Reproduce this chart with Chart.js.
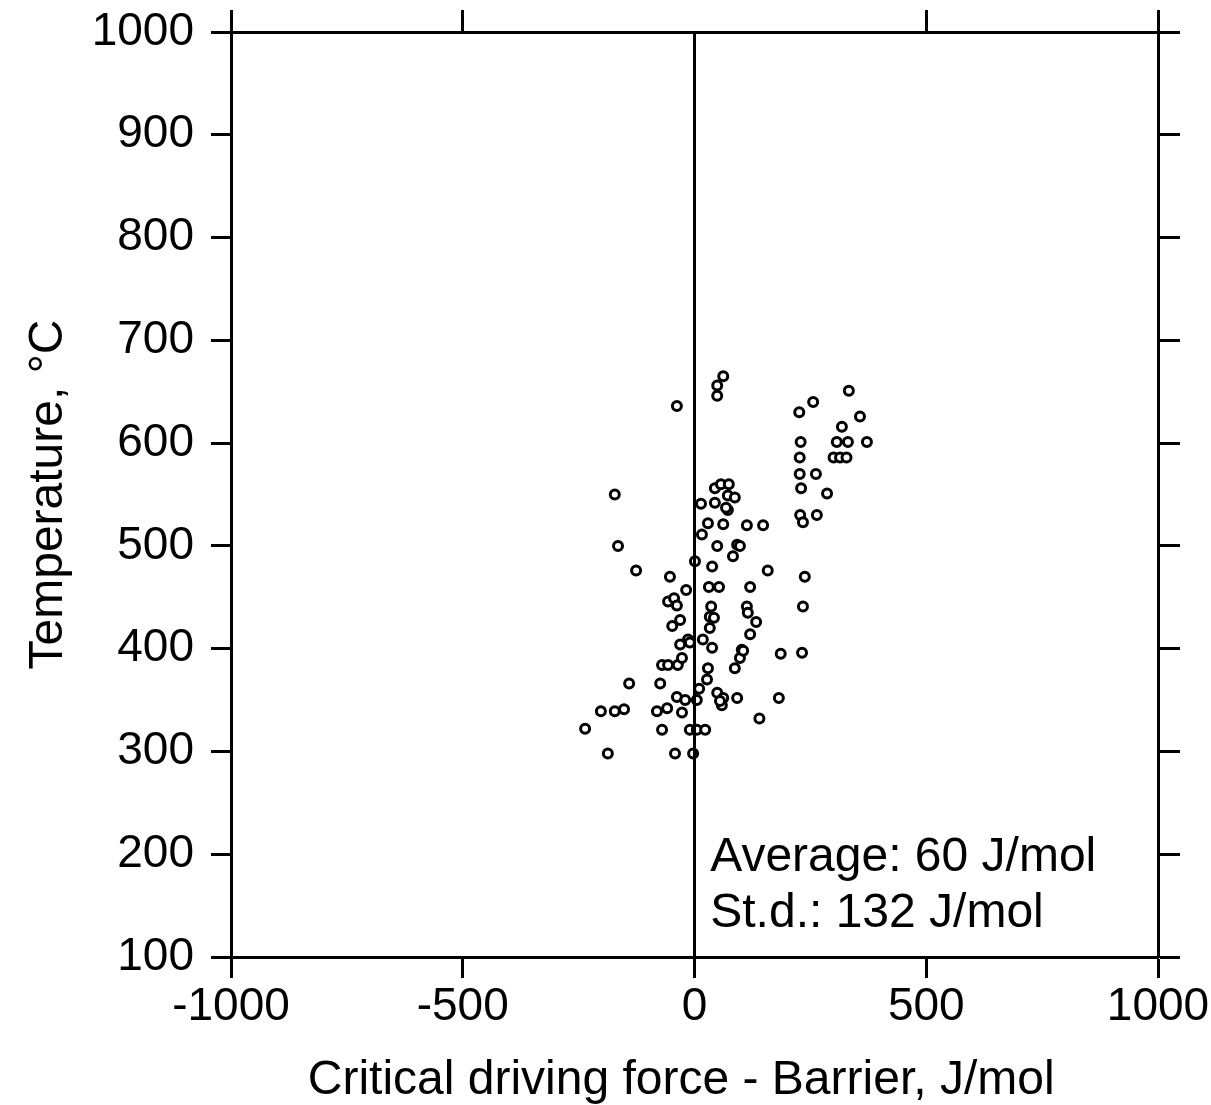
<!DOCTYPE html>
<html>
<head>
<meta charset="utf-8">
<script src="https://cdn.jsdelivr.net/npm/chart.js@4"></script>
<style>
  body { margin: 0; background: #fff; }
  #wrap { width: 1211px; height: 1105px; position: relative; }
</style>
</head>
<body>
<div id="wrap"><canvas id="chart"></canvas></div>
<script>
// Critical driving force - Barrier (J/mol) vs temperature (C)
const drivingForce = [
  -38, 62, 49, 49, -172, 44, 57, 74, 72, 87,
  72, 14, 44, 29, 16, 62, 113, -165, 49, 92,
  98, 83, 1, 38, -126, -53, 31, 53, 120, -18,
  -57, -44, -38, 36, 33, 113, 115, 133, 120, -31,
  -48, 33, -31, -14, 18, 38, 102, 98, 87, -70,
  -57, -36, -27, 29, 27, -74, -141, 10, 49, 62,
  92, 59, 55, -38, -20, 5, -81, -59, -27, -152,
  -172, -202, -236, -70, -10, 5, 23, -187, -42, -3,
  140, 186, 232, 182, 158, 238, 234, 228, 234, 264,
  148, 230, 227, 262, 286, 227, 229, 300, 314, 328,
  307, 331, 372, 318, 357, 333, 256, 226, 68, 105,
  -10, 42
];
const temperature = [
  636, 665, 656, 646, 550, 556, 560, 560, 549, 547,
  535, 541, 542, 522, 511, 521, 520, 500, 500, 501,
  500, 490, 485, 480, 476, 470, 460, 460, 460, 457,
  446, 449, 442, 441, 431, 441, 435, 426, 414, 428,
  422, 420, 404, 409, 409, 401, 399, 391, 381, 384,
  384, 384, 391, 381, 370, 366, 366, 361, 357, 352,
  352, 345, 349, 353, 350, 350, 339, 342, 338, 341,
  339, 339, 322, 321, 321, 321, 321, 298, 298, 298,
  332, 395, 396, 352, 476, 470, 441, 530, 523, 530,
  520, 556, 570, 570, 551, 586, 601, 586, 586, 586,
  601, 601, 601, 616, 626, 651, 640, 630, 537, 398,
  406, 430
];

// axis ticks
const xTicks = [-1000, -500, 0, 500, 1000];
const yTicks = [100, 200, 300, 400, 500, 600, 700, 800, 900, 1000];

const noteLines = ['Average: 60 J/mol', 'St.d.: 132 J/mol'];

const FONT = '"Liberation Sans", Arial, Helvetica, sans-serif';

const points = drivingForce.map((v, i) => ({ x: v, y: temperature[i] }));

// draws the statistics text inside the plot
const notePlugin = {
  id: 'note',
  afterDatasetsDraw(chart) {
    const { ctx, scales } = chart;
    const px = scales.x.getPixelForValue(34);
    const baselines = [184, 129];
    ctx.save();
    ctx.fillStyle = '#000';
    ctx.font = '48px ' + FONT;
    ctx.textAlign = 'left';
    ctx.textBaseline = 'alphabetic';
    noteLines.forEach((t, i) => {
      ctx.fillText(t, px, scales.y.getPixelForValue(baselines[i]));
    });
    ctx.restore();
  }
};

// force the axis box sizes so the plot area sits where it does in the figure
const fixSize = (w, h) => (scale) => {
  if (w !== null) scale.width = w;
  if (h !== null) scale.height = h;
  scale.paddingTop = 0;
  scale.paddingBottom = 0;
  scale.paddingLeft = 0;
  scale.paddingRight = 0;
};

const ctx = document.getElementById('chart').getContext('2d');
const chart = new Chart(ctx, {
  type: 'scatter',
  data: {
    datasets: [{
      type: 'line',
      data: [{ x: 0, y: 100 }, { x: 0, y: 1000 }],
      borderColor: '#000',
      borderWidth: 3,
      pointRadius: 0,
      fill: false
    }, {
      data: points,
      pointStyle: 'circle',
      pointRadius: 4.5,
      borderColor: '#000',
      backgroundColor: '#fff',
      borderWidth: 3
    }]
  },
  options: {
    responsive: true,
    maintainAspectRatio: false,
    animation: false,
    layout: { padding: 0 },
    plugins: { legend: { display: false }, tooltip: { enabled: false } },
    scales: {
      x: {
        type: 'linear',
        position: 'bottom',
        min: -1000,
        max: 1000,
        afterBuildTicks: (s) => { s.ticks = xTicks.map(v => ({ value: v })); },
        afterFit: fixSize(null, 148),
        border: { display: true, color: '#000', width: 3 },
        grid: { drawOnChartArea: false, drawTicks: true, tickLength: 21, tickColor: '#000', tickWidth: 3 },
        ticks: {
          color: '#000', padding: 2, maxRotation: 0,
          font: { family: FONT, size: 46 },
          callback: (v) => String(v)
        },
        title: {
          display: true,
          text: 'Critical driving force - Barrier, J/mol  ',
          color: '#000',
          font: { family: FONT, size: 48, lineHeight: 1 },
          padding: { top: 0, bottom: 0 }
        }
      },
      x2: {
        type: 'linear',
        position: 'top',
        min: -1000,
        max: 1000,
        afterBuildTicks: (s) => { s.ticks = xTicks.map(v => ({ value: v })); },
        afterFit: fixSize(null, 32),
        border: { display: true, color: '#000', width: 3 },
        grid: {
          drawOnChartArea: false, drawTicks: true, tickLength: 22, tickWidth: 3,
          tickColor: (c) => (c.tick && c.tick.value === 0 ? 'rgba(0,0,0,0)' : '#000')
        },
        ticks: { display: false }
      },
      y: {
        type: 'linear',
        position: 'left',
        min: 100,
        max: 1000,
        afterBuildTicks: (s) => { s.ticks = yTicks.map(v => ({ value: v })); },
        afterFit: fixSize(231, null),
        border: { display: true, color: '#000', width: 3 },
        grid: { drawOnChartArea: false, drawTicks: true, tickLength: 20, tickColor: '#000', tickWidth: 3 },
        ticks: {
          color: '#000', padding: 17,
          font: { family: FONT, size: 46 },
          callback: (v) => String(v)
        },
        title: {
          display: true,
          text: 'Temperature, °C',
          color: '#000',
          font: { family: FONT, size: 48 },
          padding: { top: 20, bottom: 0 }
        }
      },
      y2: {
        type: 'linear',
        position: 'right',
        min: 100,
        max: 1000,
        afterBuildTicks: (s) => { s.ticks = yTicks.map(v => ({ value: v })); },
        afterFit: fixSize(53, null),
        border: { display: true, color: '#000', width: 3 },
        grid: { drawOnChartArea: false, drawTicks: true, tickLength: 22, tickColor: '#000', tickWidth: 3 },
        ticks: { display: false }
      }
    }
  },
  plugins: [notePlugin]
});
</script>
</body>
</html>
